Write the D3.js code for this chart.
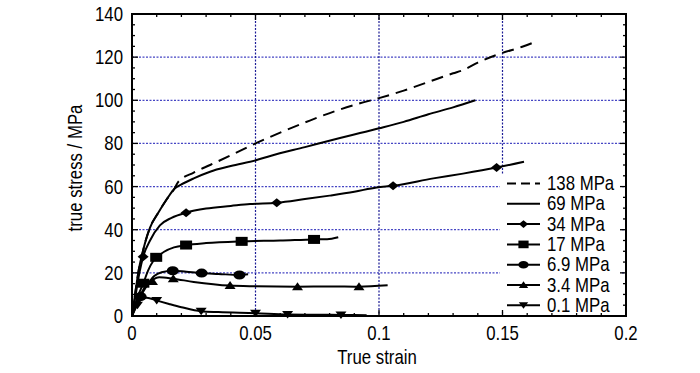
<!DOCTYPE html>
<html><head><meta charset="utf-8">
<script src="https://cdn.jsdelivr.net/npm/d3@7"></script>
<style>
body{margin:0;background:#fff;}
text{font-family:"Liberation Sans",Arial,sans-serif;}
</style></head>
<body><svg id="c" width="700" height="373"></svg>
<script>
// ---- data ----
const xTicks = [0, 0.05, 0.1, 0.15, 0.2];
const xTickLabels = ["0", "0.05", "0.1", "0.15", "0.2"];
const yTicks = [0, 20, 40, 60, 80, 100, 120, 140];
const yTickLabels = ["0", "20", "40", "60", "80", "100", "120", "140"];
const seriesNames = ["138 MPa", "69 MPa", "34 MPa", "17 MPa", "6.9 MPa", "3.4 MPa", "0.1 MPa"];
const seriesMarkers = ["none", "none", "diamond", "square", "circle", "triangle", "triangleDown"];

const s138 = [[0,0],[0.001,8],[0.002,16],[0.003,23],[0.004,28],[0.0053,34],[0.0073,41],[0.0107,48],[0.014,54],[0.0174,59.5],[0.0186,62],[0.025,66.5],[0.0316,70],[0.04,74.5],[0.05,80],[0.06,85],[0.072,90.6],[0.0823,95],[0.0923,98.6],[0.1,101],[0.11,104.5],[0.12,108.5],[0.13,112.5],[0.134,114],[0.14,117.5],[0.15,122],[0.158,124.8],[0.163,127]];
const s69 = [[0,0],[0.001,8],[0.002,16],[0.003,23],[0.004,28],[0.0053,34],[0.0073,41],[0.0107,48],[0.014,54],[0.0174,59.2],[0.02,61],[0.025,63.8],[0.0316,66.9],[0.04,69.5],[0.0505,72.3],[0.056,74.2],[0.07,78.3],[0.0842,82.5],[0.0923,84.8],[0.1,87],[0.11,90],[0.12,93.5],[0.13,96.7],[0.139,100]];
const s34 = [[0,0],[0.0015,10],[0.003,20],[0.0045,27.5],[0.0073,35],[0.0113,42],[0.016,45.5],[0.0219,47.9],[0.03,49.8],[0.04,51],[0.0478,51.9],[0.0586,52.5],[0.07,54.2],[0.08,55.8],[0.09,57.6],[0.099,59.6],[0.1057,60.4],[0.122,63.8],[0.134,66],[0.1476,68.8],[0.1587,71.5]];
const s17 = [[0,0],[0.002,8],[0.0046,15.2],[0.0065,21],[0.0086,25.5],[0.0105,27.6],[0.013,29.8],[0.017,31.8],[0.0219,32.9],[0.03,33.8],[0.0444,34.6],[0.06,35],[0.0737,35.5],[0.079,35.6],[0.0835,36.5]];
const s6_9 = [[0,0],[0.002,5],[0.0035,9],[0.006,14],[0.009,18.5],[0.012,20.3],[0.0165,21],[0.022,20.5],[0.0282,19.9],[0.035,19.5],[0.0435,19],[0.047,19.3]];
const s3_4 = [[0,0],[0.002,6],[0.004,11],[0.006,14.5],[0.0086,17],[0.011,18],[0.0167,17.3],[0.025,15.8],[0.0397,14.1],[0.05,13.8],[0.067,13.6],[0.08,13.7],[0.0919,13.6],[0.1035,14.2]];
const s0_1 = [[0,0],[0.001,3],[0.0025,6],[0.0046,8.2],[0.006,8.5],[0.01,7.2],[0.015,5.6],[0.02,4.1],[0.028,2.2],[0.035,1.8],[0.05,1.3],[0.063,0.7],[0.075,0.6],[0.0846,0.5],[0.095,0.4]];

const m34 = [[0.0045,27.5],[0.0219,47.9],[0.0586,52.5],[0.1057,60.4],[0.1476,68.8]];
const m17 = [[0.0046,15.2],[0.0098,27.2],[0.0219,32.9],[0.0444,34.6],[0.0737,35.5]];
const m6_9 = [[0.0035,9],[0.0165,21],[0.0282,19.9],[0.0435,19]];
const m3_4 = [[0.0083,16],[0.0167,17.3],[0.0397,14.1],[0.067,13.6],[0.0919,13.6]];
const m0_1 = [[0.0022,5],[0.01,7.2],[0.028,2.2],[0.05,1.3],[0.063,0.7],[0.0846,0.5]];

const curves = [s138, s69, s34, s17, s6_9, s3_4, s0_1];
const markerSets = [[], [], m34, m17, m6_9, m3_4, m0_1];

// ---- layout ----
const L = 132, R = 626, T = 14, B = 316;
const FS = 20, SX = 0.84;
const svg = d3.select("#c");
const x = d3.scaleLinear().domain([0, 0.2]).range([L, R]);
const y = d3.scaleLinear().domain([0, 140]).range([B, T]);

function ntext(tx, ty, str, anchor, rot, fs) {
  return svg.append("text")
    .attr("transform", `translate(${tx},${ty})${rot ? " rotate(" + rot + ")" : ""} scale(${SX},1)`)
    .attr("text-anchor", anchor || "start").attr("font-size", fs || FS).attr("fill", "#000").text(str);
}

const gridH = "#4646c4", gridV = "#1c1c96";
svg.append("g").selectAll("line").data([20,40,60,80,100,120]).join("line")
  .attr("x1", L).attr("x2", R).attr("y1", d => y(d)).attr("y2", d => y(d))
  .attr("stroke", gridH).attr("stroke-width", 1.2).attr("stroke-dasharray", "2,1.5");
svg.append("g").selectAll("line").data([0.05,0.1,0.15]).join("line")
  .attr("x1", d => x(d)).attr("x2", d => x(d)).attr("y1", T).attr("y2", B)
  .attr("stroke", gridV).attr("stroke-width", 1.2).attr("stroke-dasharray", "2,1.5");

// legend background
svg.append("rect").attr("x", 500).attr("y", 174).attr("width", 121).attr("height", 138).attr("fill", "#fff");

// ticks (inward)
const tk = svg.append("g").attr("stroke", "#000").attr("stroke-width", 1.3);
d3.range(0, 0.2001, 0.01).forEach(v => {
  const len = (Math.abs(v / 0.05 - Math.round(v / 0.05)) < 1e-6) ? 6 : 3;
  tk.append("line").attr("x1", x(v)).attr("x2", x(v)).attr("y1", B).attr("y2", B - len);
  tk.append("line").attr("x1", x(v)).attr("x2", x(v)).attr("y1", T).attr("y2", T + len);
});
d3.range(0, 141, 5).forEach(v => {
  const len = (v % 20 === 0) ? 6 : 3;
  tk.append("line").attr("x1", L).attr("x2", L + len).attr("y1", y(v)).attr("y2", y(v));
  tk.append("line").attr("x1", R).attr("x2", R - len).attr("y1", y(v)).attr("y2", y(v));
});

// tick labels
xTicks.forEach((v, i) => ntext(x(v), 340, xTickLabels[i], "middle"));
yTicks.forEach((v, i) => ntext(L - 9, y(v) + 7, yTickLabels[i], "end"));

// axis titles
ntext(377, 364, "True strain", "middle");
ntext(82, 168, "true stress / MPa", "middle", -90);

// curves
const line = d3.line().x(d => x(d[0])).y(d => y(d[1])).curve(d3.curveMonotoneX);
curves.forEach((c, i) => {
  svg.append("path").attr("d", line(c)).attr("fill", "none").attr("stroke", "#000")
    .attr("stroke-width", 2).attr("stroke-linejoin", "round")
    .attr("stroke-dasharray", i === 0 ? "12,7" : null);
});

function drawMarker(g, type, cx, cy, s) {
  s = s || 1;
  if (type === "diamond") {
    g.append("path").attr("d", `M${cx - 5.5*s},${cy} L${cx},${cy - 4.5*s} L${cx + 5.5*s},${cy} L${cx},${cy + 4.5*s} Z`).attr("fill", "#000");
  } else if (type === "square") {
    g.append("rect").attr("x", cx - 6*s).attr("y", cy - 4.5*s).attr("width", 12*s).attr("height", 9*s).attr("fill", "#000");
  } else if (type === "circle") {
    g.append("ellipse").attr("cx", cx).attr("cy", cy).attr("rx", 6*s).attr("ry", 4.5*s).attr("fill", "#000");
  } else if (type === "triangle") {
    g.append("path").attr("d", `M${cx - 5.5*s},${cy + 3.5*s} L${cx},${cy - 4.5*s} L${cx + 5.5*s},${cy + 3.5*s} Z`).attr("fill", "#000");
  } else if (type === "triangleDown") {
    g.append("path").attr("d", `M${cx - 5.5*s},${cy - 3.5*s} L${cx},${cy + 4*s} L${cx + 5.5*s},${cy - 3.5*s} Z`).attr("fill", "#000");
  }
}
const mg = svg.append("g");
markerSets.forEach((ms, i) => ms.forEach(p => drawMarker(mg, seriesMarkers[i], x(p[0]), y(p[1]), 1)));

// frame
svg.append("rect").attr("x", L).attr("y", T).attr("width", R - L).attr("height", B - T)
  .attr("fill", "none").attr("stroke", "#000").attr("stroke-width", 2);

// legend
const lgx0 = 507, lgx1 = 540, rowY0 = 183.5, rowH = 20.3;
seriesNames.forEach((name, i) => {
  const cy = rowY0 + i * rowH;
  svg.append("line").attr("x1", lgx0).attr("x2", lgx1).attr("y1", cy).attr("y2", cy)
    .attr("stroke", "#000").attr("stroke-width", 2).attr("stroke-dasharray", i === 0 ? "9,5" : null);
  if (seriesMarkers[i] !== "none") drawMarker(svg, seriesMarkers[i], (lgx0 + lgx1) / 2, cy, 0.85);
  ntext(547, cy + 6.5, name, "start");
});
</script></body></html>
